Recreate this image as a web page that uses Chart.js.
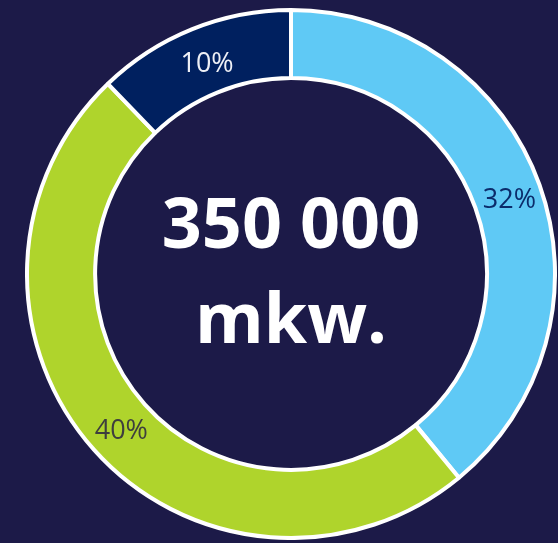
<!DOCTYPE html>
<html>
<head>
<meta charset="utf-8">
<script src="https://cdn.jsdelivr.net/npm/chart.js@4.4.1/dist/chart.umd.min.js"></script>
<style>
  html, body { margin: 0; padding: 0; overflow: hidden; background: #1c1a48; }
  body { width: 558px; height: 543px; position: relative; }
  #wrap { position: absolute; left: 25px; top: 8px; width: 532px; height: 532px; }
</style>
</head>
<body>
<div id="wrap"><canvas id="chart"></canvas></div>
<script>
// dados do gráfico
const categories = ['A', 'B', 'C'];
const values = [32, 40, 10];
const valueLabels = ['32%', '40%', '10%'];
const sliceColors = ['#5fc9f5', '#afd42c', '#00205f'];
const labelColors = ['#0b2c6b', '#3e3e3e', '#eef0f6'];
const centerLines = ['350 000', 'mkw.'];

// rótulos nas fatias + texto central
const labelsPlugin = {
    id: 'sliceLabels',
    afterDatasetsDraw(chart) {
        const ctx = chart.ctx;
        const meta = chart.getDatasetMeta(0);
        ctx.save();
        ctx.textAlign = 'center';
        ctx.textBaseline = 'middle';
        ctx.font = '27px "Open Sans", sans-serif';
        meta.data.forEach((arc, i) => {
            const p = arc.getCenterPoint();
            ctx.fillStyle = labelColors[i];
            ctx.fillText(valueLabels[i], p.x + 2, p.y + 4);
        });

        const cx = meta.data[0].x;
        const cy = meta.data[0].y;
        ctx.fillStyle = '#ffffff';
        ctx.font = 'bold 70px "Open Sans", sans-serif';
        ctx.textBaseline = 'alphabetic';
        ctx.fillText(centerLines[0], cx, cy - 26);
        ctx.fillText(centerLines[1], cx, cy + 69);
        ctx.restore();
    }
};

new Chart(document.getElementById('chart'), {
    type: 'doughnut',
    data: {
        labels: categories,
        datasets: [{
            data: values,
            backgroundColor: sliceColors,
            borderColor: '#ffffff',
            borderWidth: 4
        }]
    },
    options: {
        responsive: true,
        maintainAspectRatio: false,
        animation: false,
        cutout: '74.2%',
        layout: { padding: 0 },
        plugins: {
            legend: { display: false },
            tooltip: { enabled: false }
        }
    },
    plugins: [labelsPlugin]
});
</script>
</body>
</html>
